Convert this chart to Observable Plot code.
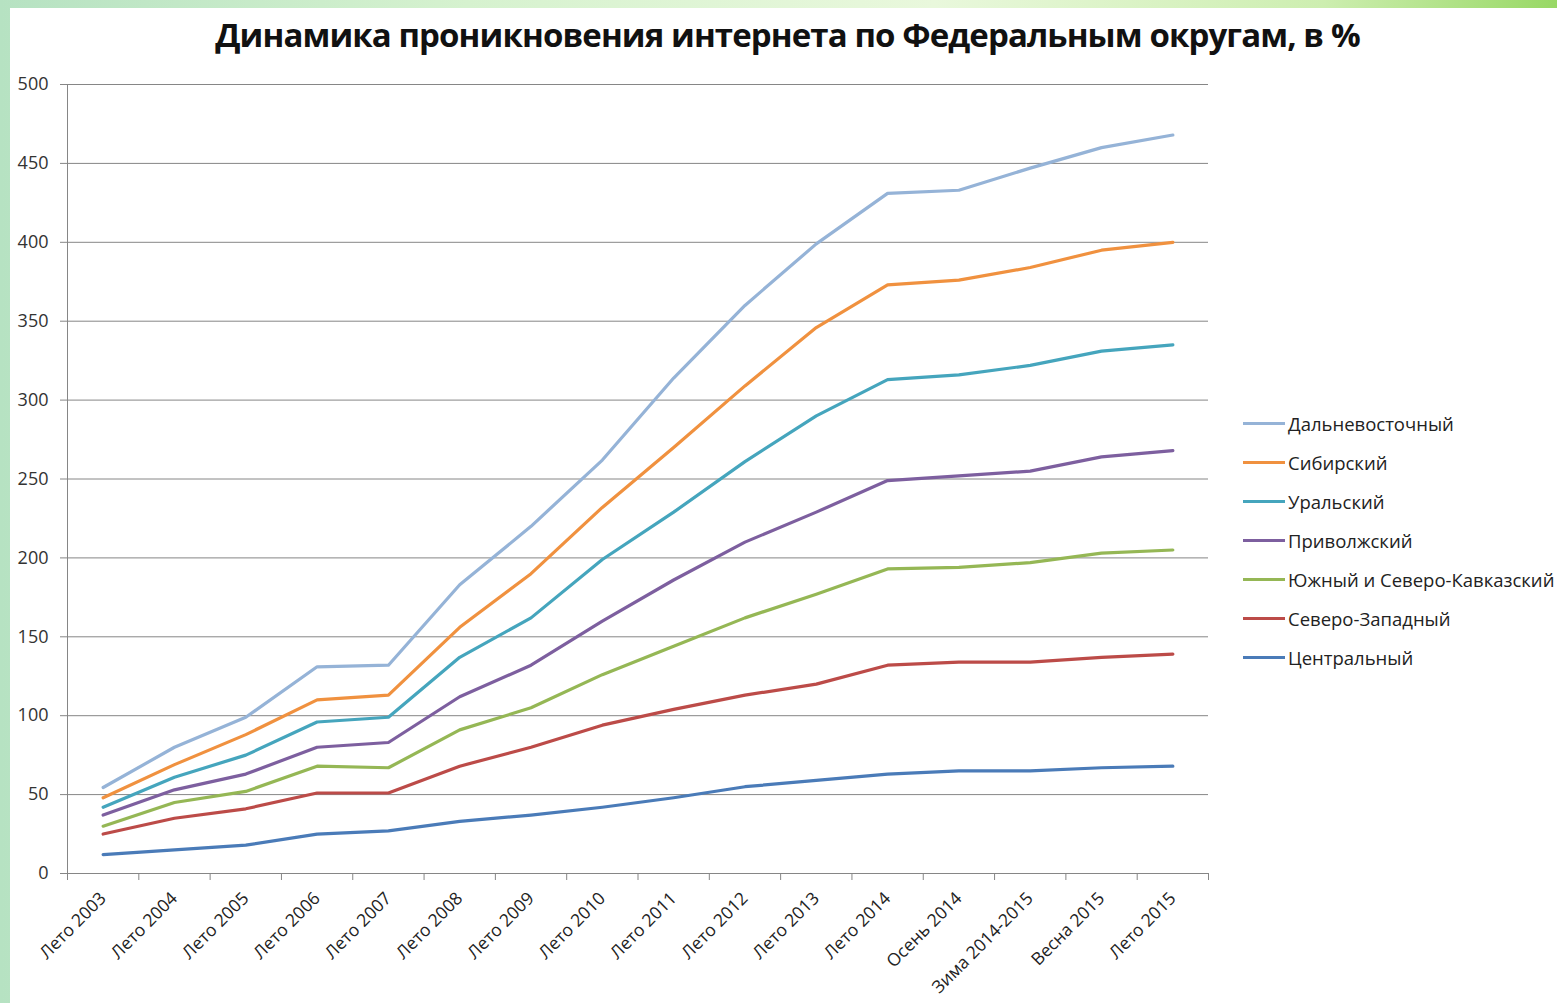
<!DOCTYPE html>
<html><head><meta charset="utf-8">
<script src="https://cdn.jsdelivr.net/npm/d3@7"></script>
<script src="https://cdn.jsdelivr.net/npm/@observablehq/plot@0.6"></script>
<style>
html,body{margin:0;padding:0;}
body{width:1557px;height:1003px;overflow:hidden;position:relative;
 background:linear-gradient(90deg,#b6e2c2 0%,#d6f2cf 30%,#e9f8dc 60%,#cdeeb0 85%,#98d865 100%);font-family:Lato,"Open Sans",sans-serif;}
#panel{position:absolute;left:10px;top:8px;right:0;bottom:0;background:#fff;}
#title{position:absolute;left:0;width:1575px;top:12px;text-align:center;font-weight:bold;font-size:33px;color:#111;font-family:"Open Sans",Lato,sans-serif;letter-spacing:-0.9px;}
#chart{position:absolute;left:0;top:70px;}
#legend{position:absolute;left:1243px;top:404px;}
.item{display:flex;align-items:center;height:39px;font-size:18.5px;color:#222;font-family:"Open Sans",sans-serif;}
.sw{width:42px;height:3px;margin-right:3px;}
</style></head>
<body>
<div id="panel"></div>
<div id="title">Динамика проникновения интернета по Федеральным округам, в %</div>
<div id="chart"></div>
<div id="legend"></div>
<script>
const categories = ["Лето 2003","Лето 2004","Лето 2005","Лето 2006","Лето 2007","Лето 2008","Лето 2009","Лето 2010","Лето 2011","Лето 2012","Лето 2013","Лето 2014","Осень 2014","Зима 2014-2015","Весна 2015","Лето 2015"];
const seriesNames = ["Дальневосточный","Сибирский","Уральский","Приволжский","Южный и Северо-Кавказский","Северо-Западный","Центральный"];
const seriesColors = ["#95b3d7","#f0913f","#45a5bd","#7d5f9f","#95b755","#bc4b48","#4a7bb8"];
const dalnevostochny = [54.5,80,99,131,132,183,220,262,314,360,399,431,433,447,460,468];
const sibirsky      = [48,69,88,110,113,156,190,232,270,309,346,373,376,384,395,400];
const uralsky       = [42,61,75,96,99,137,162,199,229,261,290,313,316,322,331,335];
const privolzhsky   = [37,53,63,80,83,112,132,160,186,210,229,249,252,255,264,268];
const yuzhny        = [30,45,52,68,67,91,105,126,144,162,177,193,194,197,203,205];
const severoZapadny = [25,35,41,51,51,68,80,94,104,113,120,132,134,134,137,139];
const centralny     = [12,15,18,25,27,33,37,42,48,55,59,63,65,65,67,68];
const yTicks = [0,50,100,150,200,250,300,350,400,450,500];

const seriesValues = [dalnevostochny,sibirsky,uralsky,privolzhsky,yuzhny,severoZapadny,centralny];
const data = seriesNames.flatMap((s,k)=>seriesValues[k].map((v,i)=>({series:s,i,v})));
const idx = categories.map((_,i)=>i);
const bounds = d3.range(categories.length+1).map(i=>i-0.5);

const chart = Plot.plot({
  width:1557, height:933,
  marginLeft:67, marginRight:349, marginTop:14, marginBottom:130,
  style:{fontFamily:"Open Sans, Lato, sans-serif", overflow:"visible", background:"transparent"},
  x:{type:"linear", domain:[-0.5, categories.length-0.5]},
  y:{domain:[0,500]},
  color:{domain:seriesNames, range:seriesColors},
  marks:[
    Plot.gridY(yTicks,{stroke:"#868686", strokeOpacity:1, strokeWidth:1}),
    Plot.frame({anchor:"left", stroke:"#868686"}),
    Plot.axisY({ticks:yTicks, tickSize:7, tickPadding:12, fontSize:18, stroke:"#868686", color:"#333", label:null}),
    Plot.axisX({ticks:bounds, tickSize:7, tickFormat:()=>"", stroke:"#868686", label:null}),
    Plot.axisX({ticks:idx, tickSize:0, tickPadding:22, tickRotate:-45, tickFormat:i=>categories[i], fontSize:17.5, color:"#222", label:null}),
    Plot.line(data,{x:"i", y:"v", z:"series", stroke:"series", strokeWidth:3.2, strokeLinejoin:"round"})
  ]
});
document.getElementById("chart").appendChild(chart);

const lg = document.getElementById("legend");
seriesNames.forEach((s,k)=>{
  const d=document.createElement("div"); d.className="item";
  d.innerHTML=`<span class="sw" style="background:${seriesColors[k]}"></span><span>${s}</span>`;
  lg.appendChild(d);
});
</script>
</body></html>
